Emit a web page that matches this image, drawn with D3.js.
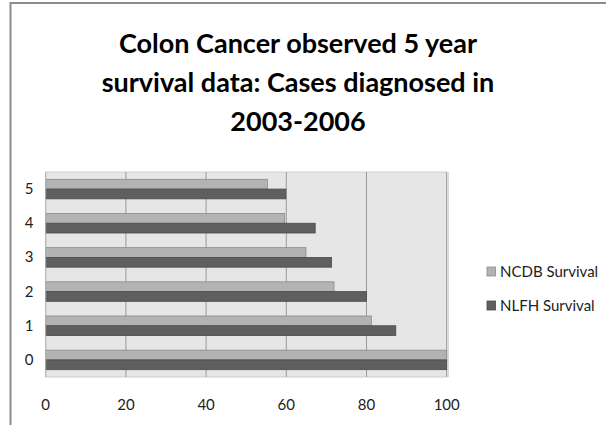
<!DOCTYPE html>
<html><head><meta charset="utf-8">
<script src="https://cdn.jsdelivr.net/npm/d3@7"></script>
<style>body{margin:0;background:#fff}svg{display:block}</style>
</head><body>
<script>
const categories = ["0","1","2","3","4","5"];
const seriesNames = ["NCDB Survival","NLFH Survival"];
const ncdb = [100, 81.2, 71.9, 64.9, 59.6, 55.3];
const nlfh = [100, 87.3, 80.0, 71.3, 67.2, 59.9];
const xTicks = [0,20,40,60,80,100];
const titleLines = ["Colon Cancer observed 5 year","survival data: Cases diagnosed in","2003-2006"];
const colors = ["#b3b3b3","#5f5f5f"];

const W=606,H=425;
const svg=d3.select("body").append("svg").attr("width",W).attr("height",H);
// frame
svg.append("line").attr("x1",10).attr("x2",606).attr("y1",3).attr("y2",3).attr("stroke","#8c8c8c").attr("stroke-width",2);
svg.append("line").attr("x1",10.5).attr("x2",10.5).attr("y1",2).attr("y2",425).attr("stroke","#8c8c8c").attr("stroke-width",2);

const L=45.7,R=446.7,T=172,B=377;
const x=d3.scaleLinear().domain([0,100]).range([L,R]);
const y=d3.scaleBand().domain(categories).range([B,T]).paddingInner(1.5/3.5).paddingOuter(0.75/3.5);
const sub=d3.scaleBand().domain(seriesNames).range([0,y.bandwidth()]);

svg.append("rect").attr("x",L).attr("y",T).attr("width",R-L).attr("height",B-T).attr("fill","#e6e6e6").attr("stroke","#cfcfcf");
svg.append("g").selectAll("line").data(xTicks.slice(1)).join("line")
  .attr("x1",d=>x(d)).attr("x2",d=>x(d)).attr("y1",T).attr("y2",B)
  .attr("stroke","#9a9a9a").attr("stroke-width",1);
svg.append("line").attr("x1",R+1.5).attr("x2",R+1.5).attr("y1",T).attr("y2",B).attr("stroke","#c8c8c8");

const data=[ncdb,nlfh];
data.forEach((vals,si)=>{
  svg.append("g").selectAll("rect").data(categories).join("rect")
    .attr("x",x(0)).attr("y",(c)=>y(c)+sub(seriesNames[si]))
    .attr("width",(c,i)=>x(vals[i])-x(0)).attr("height",sub.bandwidth())
    .attr("fill",colors[si]).attr("stroke",si===0?"#8a8a8a":"#4a4a4a").attr("stroke-width",0.8);
});
// left axis line
svg.append("line").attr("x1",L).attr("x2",L).attr("y1",T).attr("y2",B).attr("stroke","#b0b0b0");

const font="Lato, 'Open Sans', sans-serif";
// x labels
svg.append("g").selectAll("text").data(xTicks).join("text")
  .attr("x",d=>x(d)).attr("y",410).attr("text-anchor","middle")
  .attr("font-family",font).attr("font-size",15).attr("fill","#222").text(d=>d);
// y labels
svg.append("g").selectAll("text").data(categories).join("text")
  .attr("x",29).attr("y",c=>y(c)+y.bandwidth()/2+5).attr("text-anchor","middle")
  .attr("font-family",font).attr("font-size",15).attr("fill","#222").text(c=>c);
// title
svg.append("g").selectAll("text").data(titleLines).join("text")
  .attr("x",298).attr("y",(d,i)=>53+i*39).attr("text-anchor","middle")
  .attr("font-family",font).attr("font-weight","bold").attr("font-size",27).attr("fill","#000").text(d=>d);
// legend
const lg=svg.append("g");
seriesNames.forEach((n,i)=>{
  const yy=267+i*34;
  lg.append("rect").attr("x",487).attr("y",yy).attr("width",8.5).attr("height",9).attr("fill",colors[i]).attr("stroke",i===0?"#8a8a8a":"#4a4a4a").attr("stroke-width",0.8);
  lg.append("text").attr("x",500).attr("y",yy+10).attr("font-family",font).attr("font-size",15).attr("fill","#222").text(n);
});
</script>
</body></html>
